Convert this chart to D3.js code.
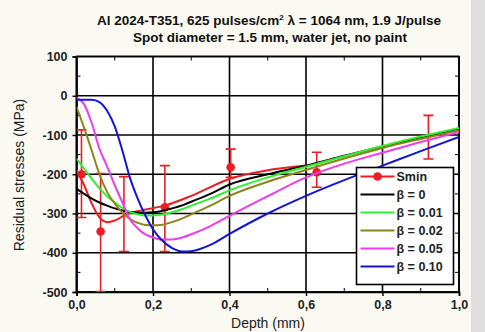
<!DOCTYPE html>
<html>
<head>
<meta charset="utf-8">
<script src="https://cdn.jsdelivr.net/npm/d3@7"></script>
<style>
  body { margin: 0; background: #fafaf3; }
  svg { display: block; font-family: "Liberation Sans", Arial, sans-serif; }
</style>
</head>
<body>
<svg id="drawing_region"></svg>
<script>
// depth grid (mm) for the model curves
const depth = [0, 0.02, 0.04, 0.06, 0.08, 0.1, 0.12, 0.14, 0.16, 0.18, 0.2, 0.22, 0.25, 0.28, 0.3, 0.35, 0.4, 0.5, 0.6, 0.7, 0.8, 0.9, 1.0]
const beta0   = [-237, -250, -262, -272, -280, -287, -292, -296, -298, -298, -297, -294, -287, -278, -270, -250, -226, -200, -178, -153, -129, -106, -84]
const beta001 = [-160, -186, -212, -236, -256, -272, -286, -296, -302, -305, -305, -303, -297, -288, -280, -262, -241, -208, -181, -154, -128, -104, -82]
const beta002 = [-28, -82, -140, -200, -245, -275, -298, -314, -324, -329, -330, -329, -322, -311, -302, -280, -255, -219, -189, -160, -133, -110, -88]
const beta005 = [-5, -22, -70, -135, -180, -228, -272, -315, -338, -353, -361, -366, -366, -360, -353, -332, -306, -256, -208, -173, -145, -118, -92]
const beta010 = [-10, -10, -10, -16, -38, -78, -140, -210, -262, -305, -340, -365, -388, -397, -396, -380, -352, -300, -255, -215, -178, -141, -105]

// Smin fitted curve
const sminFitDepth = [0, 0.02, 0.04, 0.06, 0.08, 0.1, 0.13, 0.17, 0.23, 0.3, 0.4, 0.5, 0.6]
const sminFit      = [-190, -228, -275, -310, -322, -318, -302, -292, -280, -255, -212, -190, -178]

// Smin measurements with error bars (null = no marker visible)
const sminDepth = [0.013, 0.063, 0.124, 0.231, 0.403, 0.628, 0.92]
const sminValue = [-200, -346, null, -284, -182, -195, null]
const sminHigh  = [-87, -198, -206, -178, -136, -144, -50]
const sminLow   = [-310, -499, -397, -397, -208, -233, -161]

const seriesNames  = ['β = 0', 'β = 0.01', 'β = 0.02', 'β = 0.05', 'β = 0.10']
const seriesValues = [beta0, beta001, beta002, beta005, beta010]
const seriesColors = ['#000000', '#2ef02e', '#8c8418', '#ee3cee', '#1414d8']

const xTicks = [0, 0.2, 0.4, 0.6, 0.8, 1.0]
const yTicks = [100, 0, -100, -200, -300, -400, -500]

const titleLines = ['Al 2024-T351, 625 pulses/cm', 'Spot diameter = 1.5 mm, water jet, no paint']

const config = {
    width: 485,
    height: 332,
    margin: {top: 56.5, right: 26, bottom: 40, left: 76.5}
}

const svg = d3.select('#drawing_region')
    .attr('width', config.width)
    .attr('height', config.height)

// grey strip on the right of the original scan
svg.append('rect').attr('x', 471).attr('y', 0).attr('width', 14).attr('height', config.height).attr('fill', '#dedede')

const inner_width = config.width - config.margin.left - config.margin.right
const inner_height = config.height - config.margin.top - config.margin.bottom

const chart = svg.append('g')
    .attr('transform', `translate(${config.margin.left},${config.margin.top})`)

const xscale = d3.scaleLinear().domain([0, 1]).range([0, inner_width])
const yscale = d3.scaleLinear().domain([-500, 100]).range([inner_height, 0])

chart.append('rect')
    .attr('width', inner_width).attr('height', inner_height)
    .attr('fill', '#ffffff')

// grid
chart.append('g').selectAll('line').data(xTicks).enter().append('line')
    .attr('x1', d => xscale(d)).attr('x2', d => xscale(d))
    .attr('y1', 0).attr('y2', inner_height)
    .attr('stroke', '#000').attr('stroke-width', 1.6)
chart.append('g').selectAll('line').data(yTicks).enter().append('line')
    .attr('x1', 0).attr('x2', inner_width)
    .attr('y1', d => yscale(d)).attr('y2', d => yscale(d))
    .attr('stroke', '#000').attr('stroke-width', 1.6)

// minor ticks, pointing inside
const xMinor = d3.range(0.1, 1, 0.2)
const yMinor = d3.range(-450, 100, 100)
const minor = chart.append('g').attr('stroke', '#000').attr('stroke-width', 1)
xMinor.forEach(v => {
    minor.append('line').attr('x1', xscale(v)).attr('x2', xscale(v)).attr('y1', inner_height).attr('y2', inner_height - 4)
    minor.append('line').attr('x1', xscale(v)).attr('x2', xscale(v)).attr('y1', 0).attr('y2', 4)
})
yMinor.forEach(v => {
    minor.append('line').attr('x1', 0).attr('x2', 4).attr('y1', yscale(v)).attr('y2', yscale(v))
    minor.append('line').attr('x1', inner_width).attr('x2', inner_width - 4).attr('y1', yscale(v)).attr('y2', yscale(v))
})

// axes
const xaxis = d3.axisBottom(xscale).tickValues(xTicks).tickSize(4).tickPadding(4)
    .tickFormat(d => d3.format('.1f')(d).replace('.', ','))
const yaxis = d3.axisLeft(yscale).tickValues(yTicks).tickSize(4).tickPadding(5)
    .tickFormat(d => String(d))

const xaxis_group = chart.append('g').attr('transform', `translate(0,${inner_height})`).call(xaxis)
const yaxis_group = chart.append('g').call(yaxis)
;[xaxis_group, yaxis_group].forEach(g => {
    g.select('.domain').attr('stroke-width', 1.6)
    g.selectAll('.tick line').attr('stroke-width', 1.4)
    g.selectAll('.tick text')
        .attr('fill', '#222')
        .attr('font-size', 12.5)
        .attr('font-weight', 'bold')
        .attr('font-family', '"Liberation Sans", Arial, sans-serif')
})

// frame
chart.append('rect')
    .attr('width', inner_width).attr('height', inner_height)
    .attr('fill', 'none').attr('stroke', '#000').attr('stroke-width', 1.6)

const clip = chart.append('clipPath').attr('id', 'plotclip')
clip.append('rect').attr('width', inner_width).attr('height', inner_height)
const plot = chart.append('g').attr('clip-path', 'url(#plotclip)')

const line = d3.line()
    .x(d => xscale(d[0]))
    .y(d => yscale(d[1]))
    .curve(d3.curveMonotoneX)

// Smin
const red = '#ec1c24'
plot.append('path')
    .datum(sminFitDepth.map((d, i) => [d, sminFit[i]]))
    .attr('d', line)
    .attr('fill', 'none').attr('stroke', red).attr('stroke-width', 2)

const bars = plot.append('g').attr('stroke', red).attr('stroke-width', 1.6)
sminDepth.forEach((d, i) => {
    const x = xscale(d)
    bars.append('line').attr('x1', x).attr('x2', x).attr('y1', yscale(sminHigh[i])).attr('y2', yscale(sminLow[i]))
    bars.append('line').attr('x1', x - 5).attr('x2', x + 5).attr('y1', yscale(sminHigh[i])).attr('y2', yscale(sminHigh[i]))
    bars.append('line').attr('x1', x - 5).attr('x2', x + 5).attr('y1', yscale(sminLow[i])).attr('y2', yscale(sminLow[i]))
})
plot.append('g').selectAll('circle')
    .data(sminDepth.filter((d, i) => sminValue[i] !== null).map(d => [d, sminValue[sminDepth.indexOf(d)]]))
    .enter()
    .append('circle')
    .attr('cx', d => xscale(d[0]))
    .attr('cy', d => yscale(d[1]))
    .attr('r', 4.3)
    .attr('fill', red)

// model curves
seriesValues.forEach((vals, k) => {
    plot.append('path')
        .datum(depth.map((d, i) => [d, vals[i]]))
        .attr('d', line)
        .attr('fill', 'none')
        .attr('stroke', seriesColors[k])
        .attr('stroke-width', 2)
})

// legend
const legend = svg.append('g').attr('transform', 'translate(356.5,167.5)')
legend.append('rect')
    .attr('width', 97).attr('height', 117)
    .attr('fill', '#ffffff').attr('stroke', '#000').attr('stroke-width', 1.6)
const legendItems = [{name: 'Smin', color: red, marker: true}]
    .concat(seriesNames.map((n, k) => ({name: n, color: seriesColors[k], marker: false})))
legendItems.forEach((item, i) => {
    const y = 9 + i * 18
    legend.append('line')
        .attr('x1', 4).attr('x2', 38).attr('y1', y).attr('y2', y)
        .attr('stroke', item.color).attr('stroke-width', 2)
    if (item.marker) {
        legend.append('circle').attr('cx', 21).attr('cy', y).attr('r', 4.3).attr('fill', item.color)
    }
    legend.append('text')
        .attr('x', 40).attr('y', y + 4.5)
        .attr('font-size', 12.5).attr('font-weight', 'bold').attr('fill', '#222')
        .text(item.name)
})

// title
const t1 = svg.append('text')
    .attr('x', 269).attr('y', 25)
    .attr('text-anchor', 'middle')
    .attr('font-size', 13.5).attr('font-weight', 'bold').attr('fill', '#111')
t1.append('tspan').text(titleLines[0])
t1.append('tspan').attr('dy', -5).attr('font-size', 8).text('2')
t1.append('tspan').attr('dy', 5).text(' λ = 1064 nm, 1.9 J/pulse')
svg.append('text')
    .attr('x', 270).attr('y', 41.5)
    .attr('text-anchor', 'middle')
    .attr('font-size', 13.5).attr('font-weight', 'bold').attr('fill', '#111')
    .text(titleLines[1])

// axis labels
svg.append('text')
    .attr('x', 268).attr('y', 328)
    .attr('text-anchor', 'middle')
    .attr('font-size', 14).attr('fill', '#222')
    .text('Depth (mm)')
svg.append('text')
    .attr('transform', 'translate(24,175) rotate(-90)')
    .attr('text-anchor', 'middle')
    .attr('font-size', 14).attr('fill', '#222')
    .text('Residual stresses (MPa)')
</script>
</body>
</html>
